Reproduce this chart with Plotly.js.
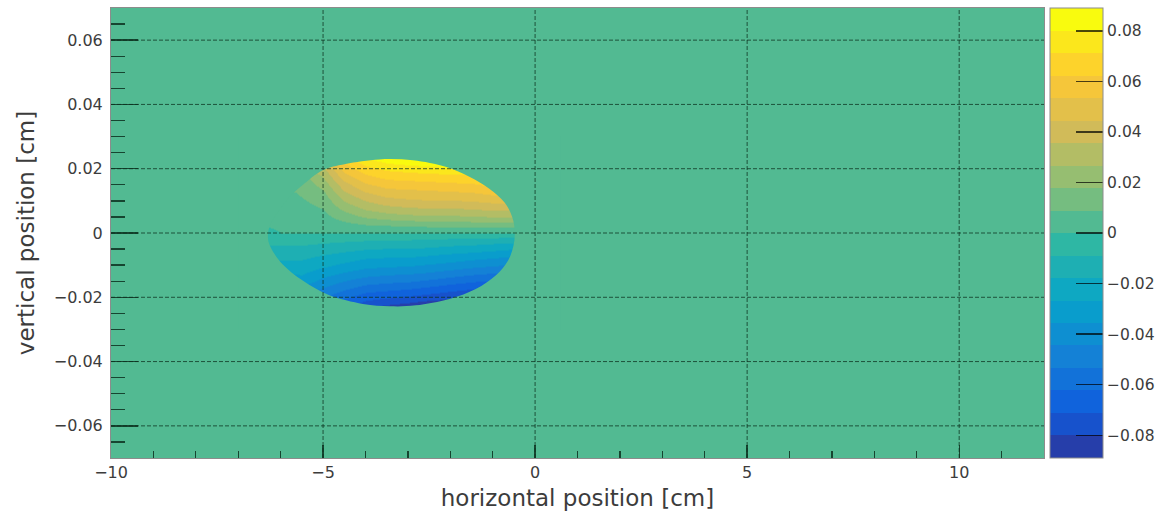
<!DOCTYPE html>
<html>
<head>
<meta charset="utf-8">
<script src="https://cdn.plot.ly/plotly-3.0.1.min.js"></script>
<style>
html,body{margin:0;padding:0;background:#ffffff;}
#chart{width:1155px;height:516px;}
</style>
</head>
<body>
<div id="chart"></div>
<script>
// ---------------- data ----------------
const n = null;
// horizontal nodes [cm]
const xNodes = [-6.5, -6, -5.5, -5, -4.5, -4, -3.5, -3, -2.5, -2, -1.5, -1, -0.5, 0];
// vertical nodes [cm]
const yNodes = [-0.025, -0.0225, -0.02, -0.0175, -0.015, -0.0125, -0.01, -0.0075, -0.005, -0.0025,
                0, 0.0025, 0.005, 0.0075, 0.01, 0.0125, 0.015, 0.0175, 0.02, 0.0225, 0.025];
// map values, one row per vertical node (bottom to top)
const zGrid = [
  [n, n, n, n, n, -0.085, -0.089, -0.089, -0.089, n, n, n, n, n],
  [n, n, n, n, -0.069, -0.077, -0.081, -0.084, -0.088, -0.088, n, n, n, n],
  [n, n, n, -0.053, -0.061, -0.068, -0.071, -0.073, -0.076, -0.079, -0.082, n, n, n],
  [n, n, n, -0.046, -0.053, -0.059, -0.061, -0.063, -0.066, -0.069, -0.072, n, n, n],
  [n, n, -0.031, -0.039, -0.045, -0.050, -0.052, -0.053, -0.056, -0.059, -0.062, -0.064, n, n],
  [n, n, -0.026, -0.032, -0.037, -0.041, -0.043, -0.044, -0.046, -0.049, -0.052, -0.054, n, n],
  [n, -0.021, -0.021, -0.025, -0.029, -0.033, -0.034, -0.035, -0.037, -0.039, -0.042, -0.044, -0.046, n],
  [n, -0.016, -0.016, -0.019, -0.022, -0.025, -0.026, -0.026, -0.028, -0.030, -0.032, -0.034, -0.036, n],
  [n, -0.011, -0.011, -0.013, -0.015, -0.017, -0.018, -0.018, -0.019, -0.021, -0.022, -0.024, -0.026, n],
  [n, -0.006, -0.006, -0.007, -0.008, -0.009, -0.010, -0.010, -0.011, -0.012, -0.013, -0.014, -0.015, n],
  [n, 0, 0, 0, 0, 0, 0, 0, 0, 0, 0, 0, 0, n],
  [n, 0.001, 0.002, 0.003, 0.006, 0.009, 0.010, 0.011, 0.012, 0.012, 0.013, 0.013, 0.013, n],
  [n, 0.002, 0.003, 0.006, 0.013, 0.019, 0.022, 0.024, 0.025, 0.025, 0.026, 0.027, 0.027, n],
  [n, 0.003, 0.006, 0.009, 0.020, 0.028, 0.032, 0.034, 0.035, 0.035, 0.036, 0.038, 0.038, n],
  [n, 0.005, 0.008, 0.012, 0.027, 0.036, 0.041, 0.043, 0.044, 0.044, 0.045, 0.047, 0.047, n],
  [n, 0.006, 0.010, 0.016, 0.034, 0.044, 0.049, 0.050, 0.051, 0.052, 0.053, 0.056, n, n],
  [n, n, 0.012, 0.021, 0.041, 0.052, 0.057, 0.058, 0.059, 0.060, 0.061, 0.064, n, n],
  [n, n, 0.014, 0.027, 0.049, 0.060, 0.065, 0.066, 0.067, 0.068, 0.069, n, n, n],
  [n, n, n, 0.033, 0.057, 0.068, 0.073, 0.075, 0.077, 0.078, 0.078, n, n, n],
  [n, n, n, n, 0.064, 0.077, 0.083, 0.086, 0.088, 0.088, n, n, n, n],
  [n, n, n, n, n, 0.085, 0.089, 0.089, n, n, n, n, n, n]
];
// outline of the filled region (x [cm], y [cm])
const edgeX = [-6.30, -6.23, -6.00, -5.77, -5.48, -5.01, -4.47, -3.67, -2.88, -2.11, -1.55, -1.08, -0.72, -0.54,
               -0.48, -0.51, -0.64, -0.93, -1.40, -2.02, -2.81, -3.43, -4.06, -4.85, -5.48, -5.95, -6.23];
const edgeY = [-0.0009, 0.0030, 0.0077, 0.0114, 0.0149, 0.0195, 0.0215, 0.0229, 0.0226, 0.0206, 0.0175, 0.0138, 0.0095, 0.0050,
               0.0005, -0.0040, -0.0086, -0.0132, -0.0174, -0.0205, -0.0225, -0.0228, -0.0221, -0.0194, -0.0148, -0.0098, -0.0046];
// colour scale range and levels
const zMin = -0.089, zMax = 0.089, nLevels = 20;
// axis ticks / grid
const xRange = [-10, 12];
const yRange = [-0.07, 0.07];
const xGridTicks = [-5, 0, 5, 10];
const yGridTicks = [-0.06, -0.04, -0.02, 0, 0.02, 0.04, 0.06];

// ---------------- style ----------------
const birdT = [0, 0.125, 0.25, 0.375, 0.5, 0.625, 0.75, 0.875, 1];
const birdR = [0.2082, 0.0592, 0.0780, 0.0232, 0.1802, 0.5301, 0.8186, 0.9956, 0.9764];
const birdG = [0.1664, 0.3599, 0.5041, 0.6419, 0.7178, 0.7492, 0.7328, 0.7862, 0.9832];
const birdB = [0.5293, 0.8684, 0.8385, 0.7914, 0.6425, 0.4662, 0.3499, 0.1968, 0.0539];
function bird(t) {
  let i = 0;
  while (i < birdT.length - 2 && t > birdT[i + 1]) i++;
  const f = (t - birdT[i]) / (birdT[i + 1] - birdT[i]);
  const c = a => Math.round(255 * (a[i] + f * (a[i + 1] - a[i])));
  return 'rgb(' + c(birdR) + ',' + c(birdG) + ',' + c(birdB) + ')';
}
const bandColors = [];
for (let k = 0; k < nLevels; k++) bandColors.push(bird((k + 1) / nLevels));
const colorscale = [];
bandColors.forEach((c, k) => { colorscale.push([k / nLevels, c]); colorscale.push([(k + 1) / nLevels, c]); });
const zeroBand = Math.floor((0 - zMin) / (zMax - zMin) * nLevels);
const bgColor = bandColors[zeroBand];

const FONT = 'DejaVu Sans, Liberation Sans, Arial, sans-serif';
const TXT = '#3c3c3c';
const TICKC = 'rgba(12,48,30,0.85)';
const GRIDC = 'rgba(12,48,30,0.75)';

// plot box in pixels
const W = 1155, H = 516, ML = 111, MR = 111, MT = 8, MB = 58;
const plotW = W - ML - MR;
const cbLeftPx = 1050, cbWidthPx = 53;

// mask outside the outline (closed smooth curve through the outline points)
function f6(v) { return v.toFixed(6); }
const mx0 = Math.min(...xNodes) - 0.5, mx1 = Math.max(...xNodes) + 0.6;
const my0 = Math.min(...yNodes) - 0.005, my1 = Math.max(...yNodes) + 0.005;
let maskPath = 'M' + f6(mx0) + ',' + f6(my0) + 'L' + f6(mx1) + ',' + f6(my0) + 'L' + f6(mx1) + ',' + f6(my1) + 'L' + f6(mx0) + ',' + f6(my1) + 'Z';
const N = edgeX.length;
maskPath += 'M' + f6(edgeX[0]) + ',' + f6(edgeY[0]);
for (let i = 0; i < N; i++) {
  const i0 = (i - 1 + N) % N, i1 = i, i2 = (i + 1) % N, i3 = (i + 2) % N;
  const c1x = edgeX[i1] + (edgeX[i2] - edgeX[i0]) / 6, c1y = edgeY[i1] + (edgeY[i2] - edgeY[i0]) / 6;
  const c2x = edgeX[i2] - (edgeX[i3] - edgeX[i1]) / 6, c2y = edgeY[i2] - (edgeY[i3] - edgeY[i1]) / 6;
  maskPath += 'C' + f6(c1x) + ',' + f6(c1y) + ' ' + f6(c2x) + ',' + f6(c2y) + ' ' + f6(edgeX[i2]) + ',' + f6(edgeY[i2]);
}
maskPath += 'Z';

const shapes = [{
  type: 'path', xref: 'x', yref: 'y', path: maskPath, fillrule: 'evenodd',
  fillcolor: bgColor, line: {width: 0}, layer: 'above'
}];
xGridTicks.forEach(g => shapes.push({
  type: 'line', xref: 'x', yref: 'paper', x0: g, x1: g, y0: 0, y1: 1,
  line: {color: GRIDC, width: 1, dash: '4px,2px'}, layer: 'above'
}));
yGridTicks.forEach(g => shapes.push({
  type: 'line', xref: 'paper', yref: 'y', x0: 0, x1: 1, y0: g, y1: g,
  line: {color: GRIDC, width: 1, dash: '4px,2px'}, layer: 'above'
}));

const trace = {
  type: 'heatmap',
  x: xNodes, y: yNodes, z: zGrid,
  zmin: zMin, zmax: zMax, zsmooth: 'best', connectgaps: true,
  colorscale: colorscale, hoverinfo: 'skip',
  colorbar: {
    thickness: cbWidthPx, thicknessmode: 'pixels', len: 1, lenmode: 'fraction',
    x: (cbLeftPx - ML) / plotW, xanchor: 'left', xpad: 0,
    y: 1, yanchor: 'top', ypad: 0,
    outlinewidth: 1, outlinecolor: '#8c8c8c',
    ticks: 'inside', ticklen: 27, tickwidth: 1.5, tickcolor: 'rgba(0,0,0,0.7)',
    tick0: 0, dtick: 0.02,
    tickfont: {family: FONT, size: 15.5, color: TXT}
  }
};

const layout = {
  width: W, height: H,
  margin: {l: ML, r: MR, t: MT, b: MB, pad: 0, autoexpand: false},
  paper_bgcolor: '#ffffff', plot_bgcolor: bgColor,
  showlegend: false,
  xaxis: {
    range: xRange, tick0: 0, dtick: 5,
    ticks: 'inside', ticklen: 13, tickwidth: 1.3, tickcolor: TICKC,
    minor: {tick0: 0, dtick: 1, ticks: 'inside', ticklen: 7, tickwidth: 1.3, tickcolor: TICKC, showgrid: false},
    showgrid: false, zeroline: false,
    showline: true, linecolor: '#8c8c8c', linewidth: 1, mirror: true,
    tickfont: {family: FONT, size: 16, color: TXT},
    ticklabelstandoff: 0,
    title: {text: 'horizontal position [cm]', font: {family: FONT, size: 23, color: TXT}, standoff: 8}
  },
  yaxis: {
    range: yRange, tick0: 0, dtick: 0.02,
    ticks: 'inside', ticklen: 27, tickwidth: 1.3, tickcolor: TICKC,
    minor: {tick0: 0, dtick: 0.005, ticks: 'inside', ticklen: 14, tickwidth: 1.3, tickcolor: TICKC, showgrid: false},
    showgrid: false, zeroline: false,
    showline: true, linecolor: '#8c8c8c', linewidth: 1, mirror: true,
    tickfont: {family: FONT, size: 16, color: TXT},
    ticklabelstandoff: 4,
    title: {text: 'vertical position [cm]', font: {family: FONT, size: 23, color: TXT}, standoff: 12}
  },
  shapes: shapes
};

Plotly.newPlot('chart', [trace], layout, {staticPlot: true, displayModeBar: false});
</script>
</body>
</html>
